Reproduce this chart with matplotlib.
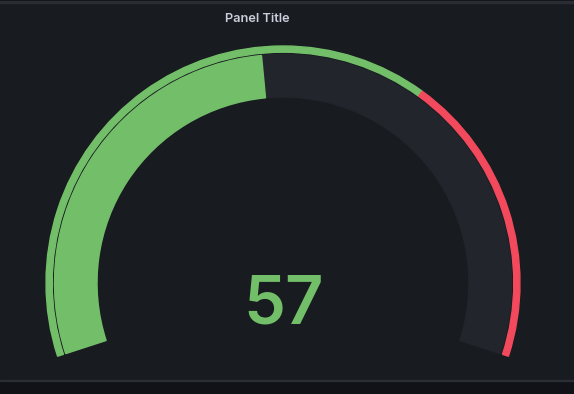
import matplotlib
matplotlib.use("Agg")
import matplotlib.pyplot as plt
from matplotlib.patches import Wedge, Rectangle

# datos del panel
titulo = "Panel Title"
valor = 57
minimo = 0
maximo = 120
umbrales = [minimo, 80]          # inicio de cada paso
colores_umbral = ["#73BF69", "#F2495C"]

# Configuración figura
# ----------------------------------------------------------------------
W, H = 574, 394
fig = plt.figure(figsize=(W / 100, H / 100), dpi=100)
fig.patch.set_facecolor("#111217")
ax = fig.add_axes([0, 0, 1, 1])
ax.set_xlim(0, W)
ax.set_ylim(0, H)
ax.set_aspect("equal")
ax.axis("off")

# fondo del panel y bordes
ax.add_patch(Rectangle((0, H - 380), W, 378, color="#181b1f", zorder=0))
ax.add_patch(Rectangle((0, H - 381), W, 1.2, color="#2a2d33", zorder=1))
ax.add_patch(Rectangle((0, H - 2.5), W, 1.2, color="#2a2d33", zorder=1))

# geometría del gauge
cx, cy = 283, H - 283
inicio, barrido = 198, 216     # grados


def angulo(v):
    return inicio - barrido * (v - minimo) / (maximo - minimo)


# banda de fondo
ax.add_patch(Wedge((cx, cy), 228.5, angulo(maximo), angulo(minimo), width=42.5,
                   color="#22252b", zorder=2))
# banda del valor
ax.add_patch(Wedge((cx, cy), 228.5, angulo(valor), angulo(minimo), width=42.5,
                   color=colores_umbral[0], zorder=3))

# anillo de umbrales
limites = umbrales + [maximo]
for i in range(len(umbrales)):
    ax.add_patch(Wedge((cx, cy), 237, angulo(limites[i + 1]), angulo(limites[i]),
                       width=6.2, color=colores_umbral[i], zorder=3))

# textos
ax.text(257, H - 18.5, titulo, color="#ccccdc", fontsize=9.2, fontweight="semibold",
        family=["Inter", "DejaVu Sans"], ha="center", va="center")
ax.text(cx + 0.5, H - 324, str(valor), color=colores_umbral[0], fontsize=48,
        fontweight="semibold", family=["Inter", "DejaVu Sans"],
        ha="center", va="baseline")

fig.savefig("out.png", dpi=100, facecolor=fig.get_facecolor())
